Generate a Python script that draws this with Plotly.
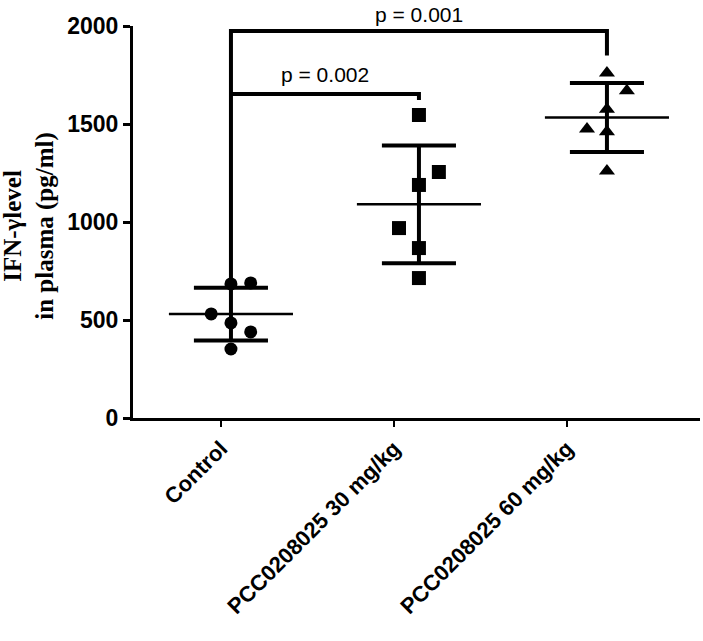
import numpy as np
import plotly.graph_objects as go

# ---- data ----
categories = ["Control", "PCC0208025 30 mg/kg", "PCC0208025 60 mg/kg"]
control = [684, 689, 531, 485, 439, 352]
dose30 = [1546, 1255, 1189, 969, 867, 714]
dose60 = [1760, 1670, 1575, 1475, 1460, 1260]
# horizontal scatter (jitter) of each point within its group, in group units
jitter_control = [0, 0.105, -0.105, 0, 0.105, 0]
jitter_30 = [0, 0.106, 0, -0.106, 0, 0]
jitter_60 = [0, 0.106, 0, -0.106, 0, 0]
symbols = ["circle", "square", "triangle-up"]
y_ticks = [0, 500, 1000, 1500, 2000]
# significance brackets: (group a, group b, bracket height, p text)
brackets = [(0, 2, 1974, "p = 0.001"), (0, 1, 1653, "p = 0.002")]

groups = [control, dose30, dose60]
jitters = [jitter_control, jitter_30, jitter_60]

fig = go.Figure()
BLACK = "black"

for gi, (vals, jit, sym) in enumerate(zip(groups, jitters, symbols)):
    xs = [gi + j for j in jit]
    fig.add_trace(go.Scatter(x=xs, y=vals, mode="markers",
                             marker=dict(symbol=sym, size=14 if sym != "circle" else 13, color=BLACK),
                             cliponaxis=False, showlegend=False))
    m = float(np.mean(vals))
    sd = float(np.std(vals, ddof=1))
    fig.add_trace(go.Scatter(x=[gi, gi], y=[m - sd, m + sd], mode="lines",
                             line=dict(color=BLACK, width=4), showlegend=False, cliponaxis=False))
    for yv in (m - sd, m + sd):
        fig.add_trace(go.Scatter(x=[gi - 0.197, gi + 0.197], y=[yv, yv], mode="lines",
                                 line=dict(color=BLACK, width=4), showlegend=False, cliponaxis=False))
    fig.add_trace(go.Scatter(x=[gi - 0.33, gi + 0.33], y=[m, m], mode="lines",
                             line=dict(color=BLACK, width=2.5), showlegend=False, cliponaxis=False))

# brackets
ctrl_top = float(np.mean(control) + np.std(control, ddof=1))
for a, b, h, txt in brackets:
    if b == 2:
        xs = [a, a, b, b]
        ys = [ctrl_top, h, h, h - 125]
    else:
        xs = [a, b, b]
        ys = [h, h, h - 30]
    fig.add_trace(go.Scatter(x=xs, y=ys, mode="lines",
                             line=dict(color=BLACK, width=4), showlegend=False, cliponaxis=False))
    fig.add_annotation(x=(a + b) / 2, y=h, xref="x", yref="y", text=txt, showarrow=False,
                       yanchor="bottom", yshift=3 if b == 2 else 6,
                       font=dict(family="Liberation Sans, Arial", size=21, color=BLACK))

fig.add_annotation(xref="paper", yref="paper", x=-0.182, y=0.49, textangle=-90,
                   xanchor="center", yanchor="middle",
                   text="IFN-γlevel<br>in plasma (pg/ml)", showarrow=False,
                   font=dict(family="Liberation Serif, Times New Roman", size=25, color=BLACK,
                             weight="bold"))

fig.update_layout(
    width=703, height=641,
    margin=dict(l=133, r=3, t=26, b=223),
    plot_bgcolor="white", paper_bgcolor="white",
    xaxis=dict(range=[-0.521, 2.495], showline=True, linecolor=BLACK, linewidth=3,
               showticklabels=False, ticks="", showgrid=False, zeroline=False, automargin=False),
    xaxis2=dict(range=[-0.509, 2.769], overlaying="x", anchor="y", side="bottom",
                tickvals=[0, 1, 2], ticktext=categories, tickangle=-45,
                ticks="outside", ticklen=8, tickwidth=2, tickcolor=BLACK,
                showline=False, showgrid=False, zeroline=False, automargin=False,
                tickfont=dict(family="Liberation Sans, Arial", size=22, color=BLACK, weight="bold")),
    yaxis=dict(range=[0, 2000], tickvals=y_ticks, showline=True, linecolor=BLACK, linewidth=3,
               ticks="outside", ticklen=7, tickwidth=3, tickcolor=BLACK,
               showgrid=False, zeroline=False, automargin=False,
               tickfont=dict(family="Liberation Sans, Arial", size=23, color=BLACK, weight="bold")),
)
fig.add_trace(go.Scatter(x=[0, 1, 2], y=[None, None, None], xaxis="x2", showlegend=False,
                         hoverinfo="skip", mode="markers"))

# remove the page's default 8px body margin so the figure fills the window exactly
fig.write_html("out.html", config={"displayModeBar": False},
               post_script="document.body.style.margin='0';document.body.style.overflow='hidden';")
